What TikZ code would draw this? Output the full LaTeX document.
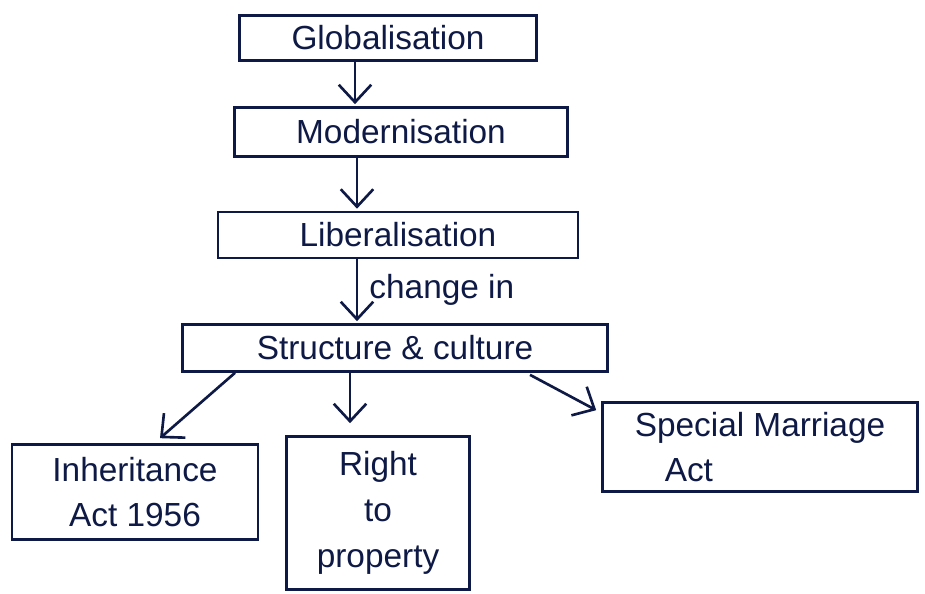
\documentclass[tikz,border=0pt]{standalone}
\usepackage{fontspec}
\setmainfont{Liberation Sans}
\usetikzlibrary{arrows.meta,calc}
\definecolor{ink}{HTML}{0E1A45}
\begin{document}
\begin{tikzpicture}[x=0.02cm,y=-0.02cm,
  box/.style={draw=ink,line width=1.5pt,text=ink,inner sep=0pt,font=\fontsize{19}{26}\selectfont},
  arr/.style={draw=ink,line width=1.5pt,-{Straight Barb[length=3.5mm,width=6.5mm,line width=1.5pt]}}]
\useasboundingbox[fill=white] (0,0) rectangle (925,594);
\node[box,minimum width=297*0.02cm,minimum height=45*0.02cm] (glob) at (388,38) {Globalisation};
\node[box,minimum width=333*0.02cm,minimum height=49*0.02cm] (mod) at (401,132) {Modernisation};
\node[box,minimum width=360*0.02cm,minimum height=46*0.02cm] (lib) at (398,235) {Liberalisation};
\node[box,minimum width=425*0.02cm,minimum height=47*0.02cm] (sc) at (395,348) {Structure \& culture};
\node[box,minimum width=246*0.02cm,minimum height=95*0.02cm,align=center] (inh) at (135,492) {Inheritance\\Act 1956};
\node[box,minimum width=183*0.02cm,minimum height=153*0.02cm,align=center] (rtp) at (378,513) {Right\\to\\property};
\node[box,minimum width=315*0.02cm,minimum height=89*0.02cm,align=left] (sma) at (760,447) {Special Marriage\\\hspace*{0.6cm}Act};
\draw[arr] ($(glob.south)+(-33,0)$) -- ($(mod.north)+(-46,-2)$);
\draw[arr] ($(mod.south)+(-44,0)$) -- ($(lib.north)+(-41,-2)$);
\draw[arr] ($(lib.south)+(-41,0)$) -- node[right=3pt,text=ink,font=\fontsize{19}{24}\selectfont] (lbl) {change in} ($(sc.north)+(-38,-2)$);
\draw[arr] ($(sc.south)+(-160,0)$) -- ($(inh.north)+(25,-5)$);
\draw[arr] ($(sc.south)+(-45,0)$) -- ($(rtp.north)+(-28,-12)$);
\draw[arr] ($(sc.south)+(135,2)$) -- ($(sma.north west)+(-5,9)$);
\end{tikzpicture}
\end{document}
